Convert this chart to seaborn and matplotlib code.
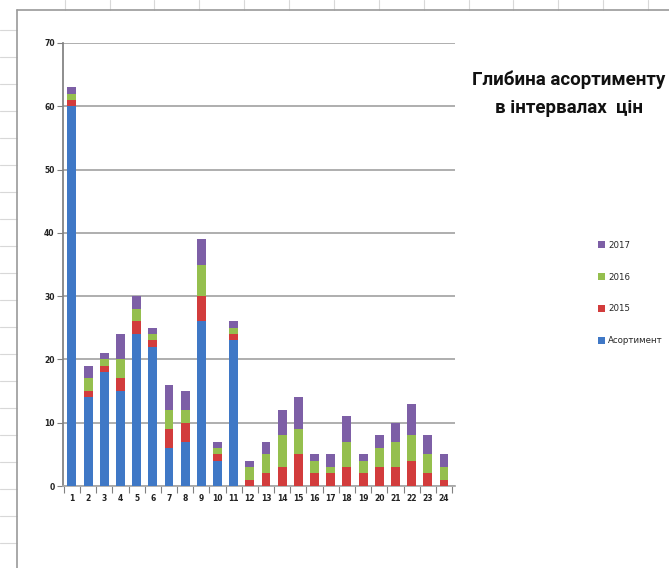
import matplotlib
matplotlib.use("Agg")
import matplotlib.pyplot as plt
from matplotlib.lines import Line2D
from matplotlib.patches import Patch
import seaborn as sns
import pandas as pd
import numpy as np

# Price intervals 1..24 and the assortment depth per interval
categories = [str(i) for i in range(1, 25)]
assortment = [60, 14, 18, 15, 24, 22, 6, 7, 26, 4, 23, 0, 0, 0, 0, 0, 0, 0, 0, 0, 0, 0, 0, 0]
y2015 = [1, 1, 1, 2, 2, 1, 3, 3, 4, 1, 1, 1, 2, 3, 5, 2, 2, 3, 2, 3, 3, 4, 2, 1]
y2016 = [1, 2, 1, 3, 2, 1, 3, 2, 5, 1, 1, 2, 3, 5, 4, 2, 1, 4, 2, 3, 4, 4, 3, 2]
y2017 = [1, 2, 1, 4, 2, 1, 4, 3, 4, 1, 1, 1, 2, 4, 5, 1, 2, 4, 1, 2, 3, 5, 3, 2]

series_names = ["Асортимент", "2015", "2016", "2017"]
series_values = [assortment, y2015, y2016, y2017]
series_colors = ["#3f78c6", "#d23c3c", "#95bf4e", "#7d5fa6"]
title_lines = ["Глибина асортименту", "в інтервалах  цін"]
y_ticks = [0, 10, 20, 30, 40, 50, 60, 70]

df = pd.DataFrame({"category": categories})
for name, vals in zip(series_names, series_values):
    df[name] = vals

sns.set_theme(style="white")
plt.rcParams["font.family"] = ["DejaVu Sans"]

W, H = 669, 568
fig = plt.figure(figsize=(W / 100, H / 100), dpi=100)
fig.patch.set_facecolor("white")

# surrounding worksheet grid and chart-area frame
for x in [65, 110, 154, 199, 244, 289, 334, 379, 424, 469, 513, 558, 603, 648]:
    fig.add_artist(Line2D([x / W, x / W], [1, 1 - 10 / H], color="#d8d8d8", lw=0.8))
for y in range(30, H, 27):
    fig.add_artist(Line2D([0, 17 / W], [1 - y / H, 1 - y / H], color="#d8d8d8", lw=0.8))
fig.add_artist(Line2D([17 / W, 1], [1 - 10 / H, 1 - 10 / H], color="#9a9a9a", lw=1.2))
fig.add_artist(Line2D([17 / W, 17 / W], [0, 1 - 10 / H], color="#9a9a9a", lw=1.2))

ax = fig.add_axes([63 / W, 1 - 486 / H, (455 - 63) / W, (486 - 43) / H])
ax.set_facecolor("none")

bottom = np.zeros(len(categories))
for name, color in zip(series_names, series_colors):
    sns.barplot(data=df, x="category", y=name, bottom=bottom, color=color,
                width=0.55, ax=ax, saturation=1, linewidth=0, zorder=3)
    bottom = bottom + df[name].to_numpy()

ax.set_ylim(0, 70)
ax.set_xlim(-0.55, 23.68)
ax.set_yticks(y_ticks)
ax.set_yticklabels([str(t) for t in y_ticks], fontsize=5.5, fontweight="bold", color="#222222")
ax.set_xticks(range(len(categories)))
ax.set_xticklabels(categories, fontsize=5.5, fontweight="bold", color="#222222")
ax.set_xlabel("")
ax.set_ylabel("")

# horizontal gridlines
for t in y_ticks:
    ax.axhline(t, color="#a8a8a8", lw=1.3, zorder=1)

for s in ["top", "right"]:
    ax.spines[s].set_visible(False)
ax.spines["left"].set_color("#808080")
ax.spines["bottom"].set_color("#a8a8a8")
ax.tick_params(axis="y", which="major", length=4, width=0.8, color="#808080", pad=2, left=True)
ax.tick_params(axis="x", which="major", length=0, pad=6)
# x ticks at category boundaries
ax.set_xticks(np.arange(-0.5, 24, 1), minor=True)
ax.tick_params(axis="x", which="minor", length=5, width=0.8, color="#808080", bottom=True)

# title
title_font = dict(fontsize=13.5, fontweight="bold", fontstretch="condensed",
                  family=["Roboto", "DejaVu Sans"], color="#111111")
fig.text(569 / W, 1 - 80 / H, title_lines[0], ha="center", va="center", **title_font)
fig.text(569 / W, 1 - 108 / H, title_lines[1], ha="center", va="center", **title_font)

# legend, top to bottom in reverse stacking order
handles = [Patch(facecolor=c, edgecolor="none") for c in series_colors[::-1]]
leg = fig.legend(handles, series_names[::-1], loc="upper left",
                 bbox_to_anchor=(590 / W, 1 - 233 / H), frameon=False,
                 fontsize=6.2, handlelength=0.8, handleheight=0.8,
                 handletextpad=0.4, labelspacing=2.65)

fig.savefig("out.png", dpi=100, facecolor="white")
